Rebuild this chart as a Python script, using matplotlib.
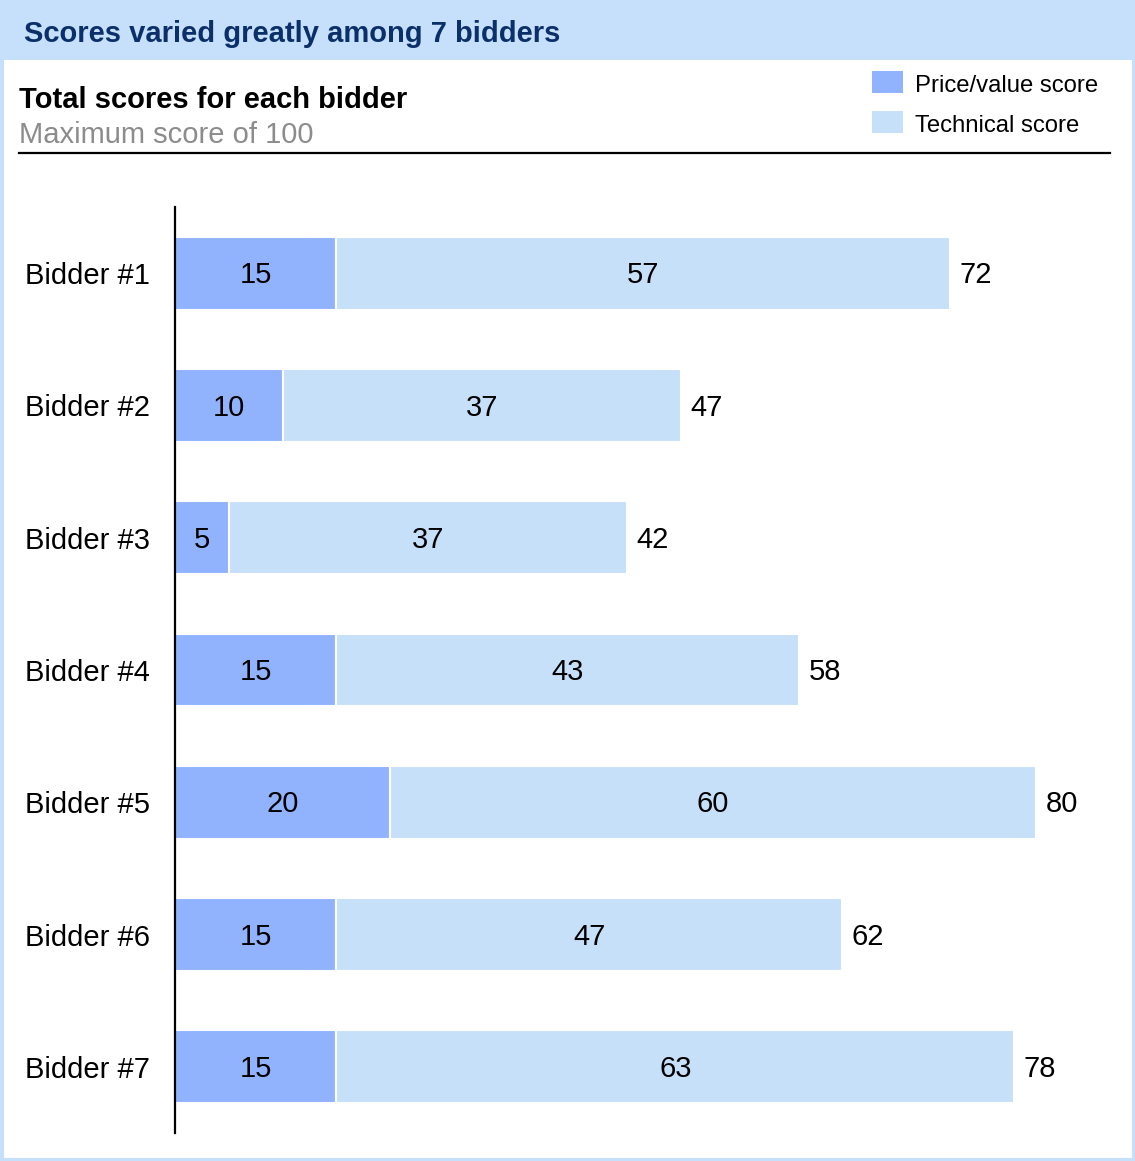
import matplotlib.pyplot as plt
from matplotlib.patches import Rectangle
from matplotlib.lines import Line2D

plt.rcParams['font.family'] = ['Liberation Sans', 'DejaVu Sans']

bidders = ['Bidder #1', 'Bidder #2', 'Bidder #3', 'Bidder #4', 'Bidder #5', 'Bidder #6', 'Bidder #7']
price = [15, 10, 5, 15, 20, 15, 15]
technical = [57, 37, 37, 43, 60, 47, 63]

PRICE_C = '#91b3fe'
TECH_C = '#c7e0fa'
FS = 21
W, H = 1135, 1161

fig = plt.figure(figsize=(W / 100, H / 100), dpi=100)


def fx(px):
    return px / W


def fy(py):
    return 1 - py / H


# header band and outer border
fig.patches.append(Rectangle((0, fy(60)), 1, 60 / H, transform=fig.transFigure,
                             facecolor='#c6e0fb', edgecolor='none', zorder=0))
fig.patches.append(Rectangle((fx(1.5), fy(1159.5)), fx(1132), 1158 / H, transform=fig.transFigure,
                             facecolor='none', edgecolor='#c6e0fb', linewidth=3, zorder=0))

fig.text(fx(24), fy(34), 'Scores varied greatly among 7 bidders', fontsize=FS,
         fontweight='bold', color='#0b3069', va='center', ha='left')
fig.text(fx(19), fy(100), 'Total scores for each bidder', fontsize=FS,
         fontweight='bold', color='black', va='center', ha='left')
fig.text(fx(19), fy(135), 'Maximum score of 100', fontsize=FS,
         color='#8c8c8c', va='center', ha='left')
fig.lines.append(Line2D([fx(19), fx(1110)], [fy(153), fy(153)], transform=fig.transFigure,
                        color='black', linewidth=1.6))

# legend
for i, (lab, c) in enumerate([('Price/value score', PRICE_C), ('Technical score', TECH_C)]):
    yc = 82 + 40 * i
    fig.patches.append(Rectangle((fx(872), fy(yc + 11)), fx(31), 22 / H, transform=fig.transFigure,
                                 facecolor=c, edgecolor='none'))
    fig.text(fx(915), fy(yc + 4), lab, fontsize=17.2, color='black', va='center', ha='left')

# bars
ax = fig.add_axes([fx(175), fy(1133), fx(1110) - fx(175), (1133 - 207) / H])
ypos = list(range(len(bidders)))
ax.barh(ypos, price, height=0.55, color=PRICE_C, edgecolor='white', linewidth=1.5)
ax.barh(ypos, technical, left=price, height=0.55, color=TECH_C, edgecolor='white', linewidth=1.5)

off = dict(textcoords='offset points', xytext=(0, -1.5), va='center', fontsize=FS)
for y, p, t in zip(ypos, price, technical):
    ax.annotate(str(p), (p / 2, y), ha='center', **off)
    ax.annotate(str(t), (p + t / 2, y), ha='center', **off)
    ax.annotate(str(p + t), (p + t + 0.9, y), ha='left', **off)

ax.set_xlim(0, 86.9)
ax.set_ylim(len(bidders) - 0.5, -0.5)
ax.set_yticks(ypos)
ax.set_yticklabels(bidders, fontsize=FS)
ax.tick_params(axis='y', length=0, pad=18)
ax.set_xticks([])
for s in ['top', 'right', 'bottom']:
    ax.spines[s].set_visible(False)
ax.spines['left'].set_linewidth(1.6)
ax.set_facecolor('none')

fig.savefig('out.png', dpi=100)
